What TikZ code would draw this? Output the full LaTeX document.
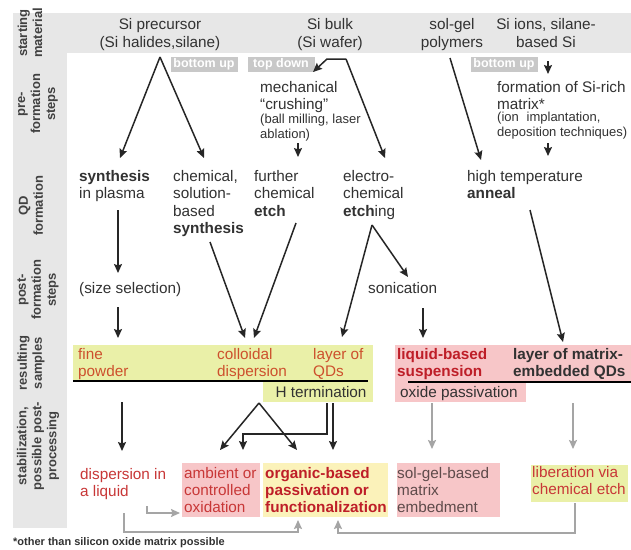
\documentclass[tikz,border=0pt]{standalone}
\usepackage{fontspec}
\setmainfont{Liberation Sans}
\usetikzlibrary{arrows.meta}
\definecolor{bgray}{RGB}{231,231,231}
\definecolor{tagg}{RGB}{200,200,200}
\definecolor{ylg}{RGB}{234,240,168}
\definecolor{pinkb}{RGB}{247,198,200}
\definecolor{ylw}{RGB}{251,242,186}
\definecolor{tc}{RGB}{50,50,50}
\definecolor{lab}{RGB}{65,65,65}
\definecolor{orred}{RGB}{205,80,45}
\definecolor{crim}{RGB}{190,30,40}
\definecolor{redt}{RGB}{200,55,55}
\definecolor{solt}{RGB}{95,75,75}
\definecolor{garr}{RGB}{165,165,165}
\begin{document}
\begin{tikzpicture}[x=1pt,y=-1pt,
  txt/.style={font=\fontsize{15.3}{17.5}\selectfont, text=tc, align=left, inner sep=0pt, anchor=north west},
  smalltxt/.style={font=\fontsize{13}{14.5}\selectfont, text=tc, align=left, inner sep=0pt, anchor=north west},
  toplab/.style={font=\fontsize{15.3}{18}\selectfont, text=tc, align=center, inner sep=0pt, anchor=north},
  rowlab/.style={font=\bfseries\fontsize{13}{15}\selectfont, text=lab, align=center, inner sep=0pt, rotate=90},
  tagbox/.style={fill=tagg, text=white, font=\bfseries\fontsize{12.5}{14}\selectfont, minimum width=67pt, minimum height=15pt, inner sep=0pt},
  arr/.style={draw=black!85, line width=1.5pt, -{Stealth[length=9pt,width=8pt,inset=1.5pt]}},
  garrow/.style={draw=garr, line width=1.5pt, -{Stealth[length=9pt,width=8pt,inset=1.5pt]}},
  rule/.style={draw=black, line width=2pt}
]
\useasboundingbox[fill=white] (0,0) rectangle (631,549);
% background bands
\fill[bgray] (13,13) rectangle (631,53);
\fill[bgray] (13,13) rectangle (67,528);
% resulting samples bands
\fill[ylg] (73,345) rectangle (373,381);
\fill[ylg] (263,381) rectangle (373,402);
\fill[pinkb] (395,345) rectangle (631,381);
\fill[pinkb] (395,381) rectangle (526,402);
% stabilization boxes
\fill[pinkb] (182,463) rectangle (260,517);
\fill[ylw] (263,463) rectangle (388,517);
\fill[pinkb] (397,463) rectangle (500,517);
\fill[ylg] (531,465) rectangle (628,502);

% row labels
\node[rowlab] (rl1) at (30,33) {starting\\material};
\node[rowlab] (rl2) at (38,104) {pre-\\formation\\steps};
\node[rowlab] (rl3) at (31,206) {QD\\formation};
\node[rowlab] (rl4) at (38,290) {post-\\formation\\steps};
\node[rowlab] (rl5) at (31,363) {resulting\\samples};
\node[rowlab] (rl6) at (38,446) {stabilization,\\possible post-\\processing};

% top labels
\node[toplab] (prec) at (160,16.5) {\strut Si precursor\\(Si halides,silane)};
\node[toplab] (bulk) at (330,16.5) {\strut Si bulk\\(Si wafer)};
\node[toplab] (solg) at (452,16.5) {\strut sol-gel\\polymers};
\node[toplab] (ions) at (546,16.5) {\strut Si ions, silane-\\based Si};

% tags
\node[tagbox] (bu1) at (204,64) {bottom up};
\node[tagbox] (td) at (281,64) {top down};
\node[tagbox] (bu2) at (504,64) {bottom up};

% pre-formation
\node[txt] (mech) at (260,80) {\strut mechanical\\“crushing”};
\node[smalltxt] (mechs) at (260,113.5) {\strut (ball milling, laser\\ablation)};
\node[txt] (form) at (497,80) {\strut formation of Si-rich\\matrix*};
\node[smalltxt] (forms) at (497,111.5) {\strut (ion\hspace{0.6em}implantation,\\deposition techniques)};

% QD formation
\node[txt] (synp) at (79,169) {\strut\textbf{synthesis}\\in plasma};
\node[txt] (chem) at (173,169) {\strut chemical,\\solution-\\based\\\textbf{synthesis}};
\node[txt] (furth) at (254,169) {\strut further\\chemical\\\textbf{etch}};
\node[txt] (elec) at (343,169) {\strut electro-\\chemical\\\textbf{etch}ing};
\node[txt] (anneal) at (467,169) {\strut high temperature\\\textbf{anneal}};

% post-formation
\node[txt] (size) at (79,281) {\strut (size selection)};
\node[txt] (sonic) at (368,281) {\strut sonication};

% resulting samples
\node[txt, text=orred] (fine) at (78,347) {\strut fine\\powder};
\node[txt, text=orred] (coll) at (217,347) {\strut colloidal\\dispersion};
\node[txt, text=orred] (layer) at (313,347) {\strut layer of\\QDs};
\node[txt, anchor=center] (hterm) at (321,392) {H termination};
\node[txt, text=crim, font=\bfseries\fontsize{15.3}{17.5}\selectfont] (liq) at (397,347) {\strut liquid-based\\suspension};
\node[txt, font=\bfseries\fontsize{15.3}{17.5}\selectfont] (lmat) at (513,347) {\strut layer of matrix-\\embedded QDs};
\node[txt] (oxp) at (400,385) {\strut oxide passivation};
\draw[rule] (73,381) -- (368,381);
\draw[rule] (408,382) -- (631,382);

% stabilization
\node[txt, text=redt, font=\fontsize{15.3}{17}\selectfont] (disp) at (80,467) {\strut dispersion in\\a liquid};
\node[txt, text=redt, font=\fontsize{15.3}{16.8}\selectfont] (amb) at (184,467) {\strut ambient or\\controlled\\oxidation};
\node[txt, text=crim, font=\bfseries\fontsize{15.3}{16.8}\selectfont] (org) at (265,467) {\strut organic-based\\passivation or\\functionalization};
\node[txt, text=solt, font=\fontsize{15.3}{16.8}\selectfont] (solb) at (397,467) {\strut sol-gel-based\\matrix\\embedment};
\node[txt, text=redt, font=\fontsize{15.3}{17.5}\selectfont] (lib) at (532,465) {\strut liberation via\\chemical etch};

% footnote
\node[anchor=west, inner sep=0pt, text=tc, font=\bfseries\fontsize{11}{13}\selectfont] (foot) at (13,543) {*other than silicon oxide matrix possible};

% coordinates for connectors
\coordinate (c1) at (160,57);
\coordinate (c1l) at (120,158);
\coordinate (c1r) at (204,158);
\coordinate (b0) at (346,59);
\coordinate (b1) at (327,59);
\coordinate (b2) at (313,72);
\coordinate (b3) at (385,158);
\coordinate (s0) at (450,58);
\coordinate (s1) at (481,160);
\coordinate (i0) at (548,61);
\coordinate (i1) at (548,74);
\coordinate (i2) at (548,143);
\coordinate (i3) at (548,156);
\coordinate (m0) at (298,143);
\coordinate (m1) at (298,157);
\coordinate (p0) at (118,210);
\coordinate (p1) at (118,273);
\coordinate (p2) at (118,307);
\coordinate (p3) at (118,338);
\coordinate (h0) at (210,242);
\coordinate (h1) at (245,338);
\coordinate (f0) at (296,223);
\coordinate (f1) at (254,338);
\coordinate (e0) at (372,225);
\coordinate (e1) at (342,337);
\coordinate (e2) at (408,277);
\coordinate (n0) at (423,308);
\coordinate (n1) at (423,338);
\coordinate (a0) at (530,210);
\coordinate (a1) at (563,342);
\coordinate (d0) at (122,402);
\coordinate (d1) at (122,451);
\coordinate (t0) at (259,403);
\coordinate (t1) at (220,450);
\coordinate (t2) at (297,450);
\coordinate (k0) at (327,403);
\coordinate (k1) at (327,434);
\coordinate (k2) at (243,434);
\coordinate (k3) at (243,450);
\coordinate (q0) at (333,403);
\coordinate (q1) at (333,450);
\coordinate (o0) at (432,403);
\coordinate (o1) at (432,449);
\coordinate (x0) at (573,403);
\coordinate (x1) at (573,449);
\coordinate (l0) at (575,503);
\coordinate (l1) at (575,533);
\coordinate (l2) at (338,533);
\coordinate (l3) at (338,520);
\coordinate (g0) at (124,513);
\coordinate (g1) at (124,532);
\coordinate (g2) at (298,532);
\coordinate (g3) at (298,520);
\coordinate (y0) at (147,506);
\coordinate (y1) at (147,513);
\coordinate (y2) at (180,513);

% black arrows
\draw[arr] (c1) -- (c1l);
\draw[arr] (c1) -- (c1r);
\draw[arr] (b0) -- (b1) -- (b2);
\draw[arr] (b0) -- (b3);
\draw[arr] (s0) -- (s1);
\draw[arr] (i0) -- (i1);
\draw[arr] (i2) -- (i3);
\draw[arr] (m0) -- (m1);
\draw[arr] (p0) -- (p1);
\draw[arr] (p2) -- (p3);
\draw[arr] (h0) -- (h1);
\draw[arr] (f0) -- (f1);
\draw[arr] (e0) -- (e1);
\draw[arr] (e0) -- (e2);
\draw[arr] (n0) -- (n1);
\draw[arr] (a0) -- (a1);
\draw[arr] (d0) -- (d1);
\draw[arr] (t0) -- (t1);
\draw[arr] (t0) -- (t2);
\draw[arr] (k0) -- (k1) -- (k2) -- (k3);
\draw[arr] (q0) -- (q1);
% gray arrows
\draw[garrow] (o0) -- (o1);
\draw[garrow] (x0) -- (x1);
\draw[garrow] (l0) -- (l1) -- (l2) -- (l3);
\draw[garrow] (g0) -- (g1) -- (g2) -- (g3);
\draw[garrow] (y0) -- (y1) -- (y2);
\end{tikzpicture}
\end{document}
